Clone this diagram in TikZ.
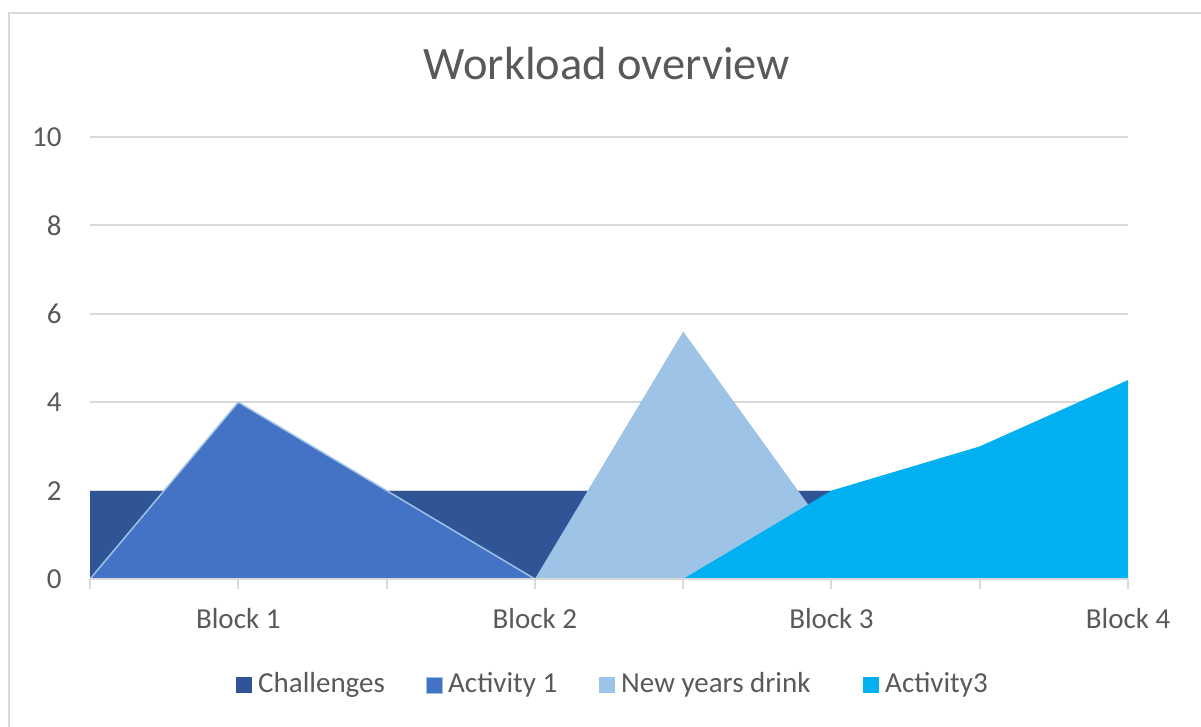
\documentclass[tikz,border=0pt]{standalone}
\usepackage{fontspec}
\setmainfont{Carlito}
\usepackage{tikz}
\usetikzlibrary{positioning}
\definecolor{chartgray}{HTML}{595959}
\definecolor{gridgray}{HTML}{D9D9D9}
\definecolor{challengesblue}{HTML}{2F5597}
\definecolor{activityblue}{HTML}{4472C4}
\definecolor{drinkblue}{HTML}{9DC3E6}
\definecolor{activitycyan}{HTML}{00B0F0}
\newcommand{\labelfont}{\fontsize{29}{34}\selectfont}
\newcommand{\titlefont}{\fontsize{46.5}{52}\selectfont}
\tikzstyle{gridline}=[draw=gridgray, line width=2pt]
\tikzstyle{ticklabel}=[inner sep=0, text=chartgray, font=\labelfont]
\tikzstyle{legendbox}=[inner sep=0, outer sep=0, minimum size=16pt,
                       % legend text sits to the right of the box
                       label={[ticklabel, anchor=west, xshift=6pt]right:#1}]
\tikzstyle{chartarea}=[x=148.29pt, y=44.2pt, line join=round]

\begin{document}
\begin{tikzpicture}[x=1pt, y=-1pt]
    \useasboundingbox (0,0) rectangle (1201,727);
    \clip (0,0) rectangle (1201,727);
    \draw[gridgray, line width=2pt] (9,13) rectangle (1230,760);
    \node[ticklabel, font=\titlefont, anchor=base] (title) at (607,80) {Workload overview};
    \begin{scope}[shift={(90,579)}, chartarea]
        % horizontal grid and value labels
        \foreach \v in {2,4,...,10} {
            \draw[gridline] (0,\v) -- (7,\v);
        }
        \foreach \v in {0,2,...,10} {
            \node[ticklabel, anchor=east] (y\v) at (-0.19,\v) {\v};
        }
        % series, back to front
        \fill[challengesblue] (0,0) -- (0,2) -- (5,2) -- (5,0) -- cycle;
        \filldraw[fill=activityblue, draw=drinkblue, line width=1.5pt] (0,0) -- (1,4) -- (2,2) -- (3,0) -- cycle;
        \fill[drinkblue] (3,0) -- (4,5.6) -- (5,0.95) -- (6,0) -- cycle;
        \fill[activitycyan] (4,0) -- (5,2) -- (6,3) -- (7,4.5) -- (7,0) -- cycle;
        % category axis
        \draw[gridline] (0,0) -- (7,0);
        \foreach \i in {0,...,7} {
            \draw[gridline] (\i,0) -- ++(0,-0.22);
        }
        \node[ticklabel, anchor=base] (b1) at (1,-1.13) {Block 1};
        \node[ticklabel, anchor=base] (b2) at (3,-1.13) {Block 2};
        \node[ticklabel, anchor=base] (b3) at (5,-1.13) {Block 3};
        \node[ticklabel, anchor=base] (b4) at (7,-1.13) {Block 4};
    \end{scope}
    % legend
    \node[legendbox=Challenges, fill=challengesblue] (leg1) at (244,685) {};
    \node[legendbox=Activity 1, fill=activityblue, draw=drinkblue, line width=1pt] (leg2) at (434,685) {};
    \node[legendbox=New years drink, fill=drinkblue] (leg3) at (607,685) {};
    \node[legendbox=Activity3, fill=activitycyan] (leg4) at (871,685) {};
\end{tikzpicture}
\end{document}
